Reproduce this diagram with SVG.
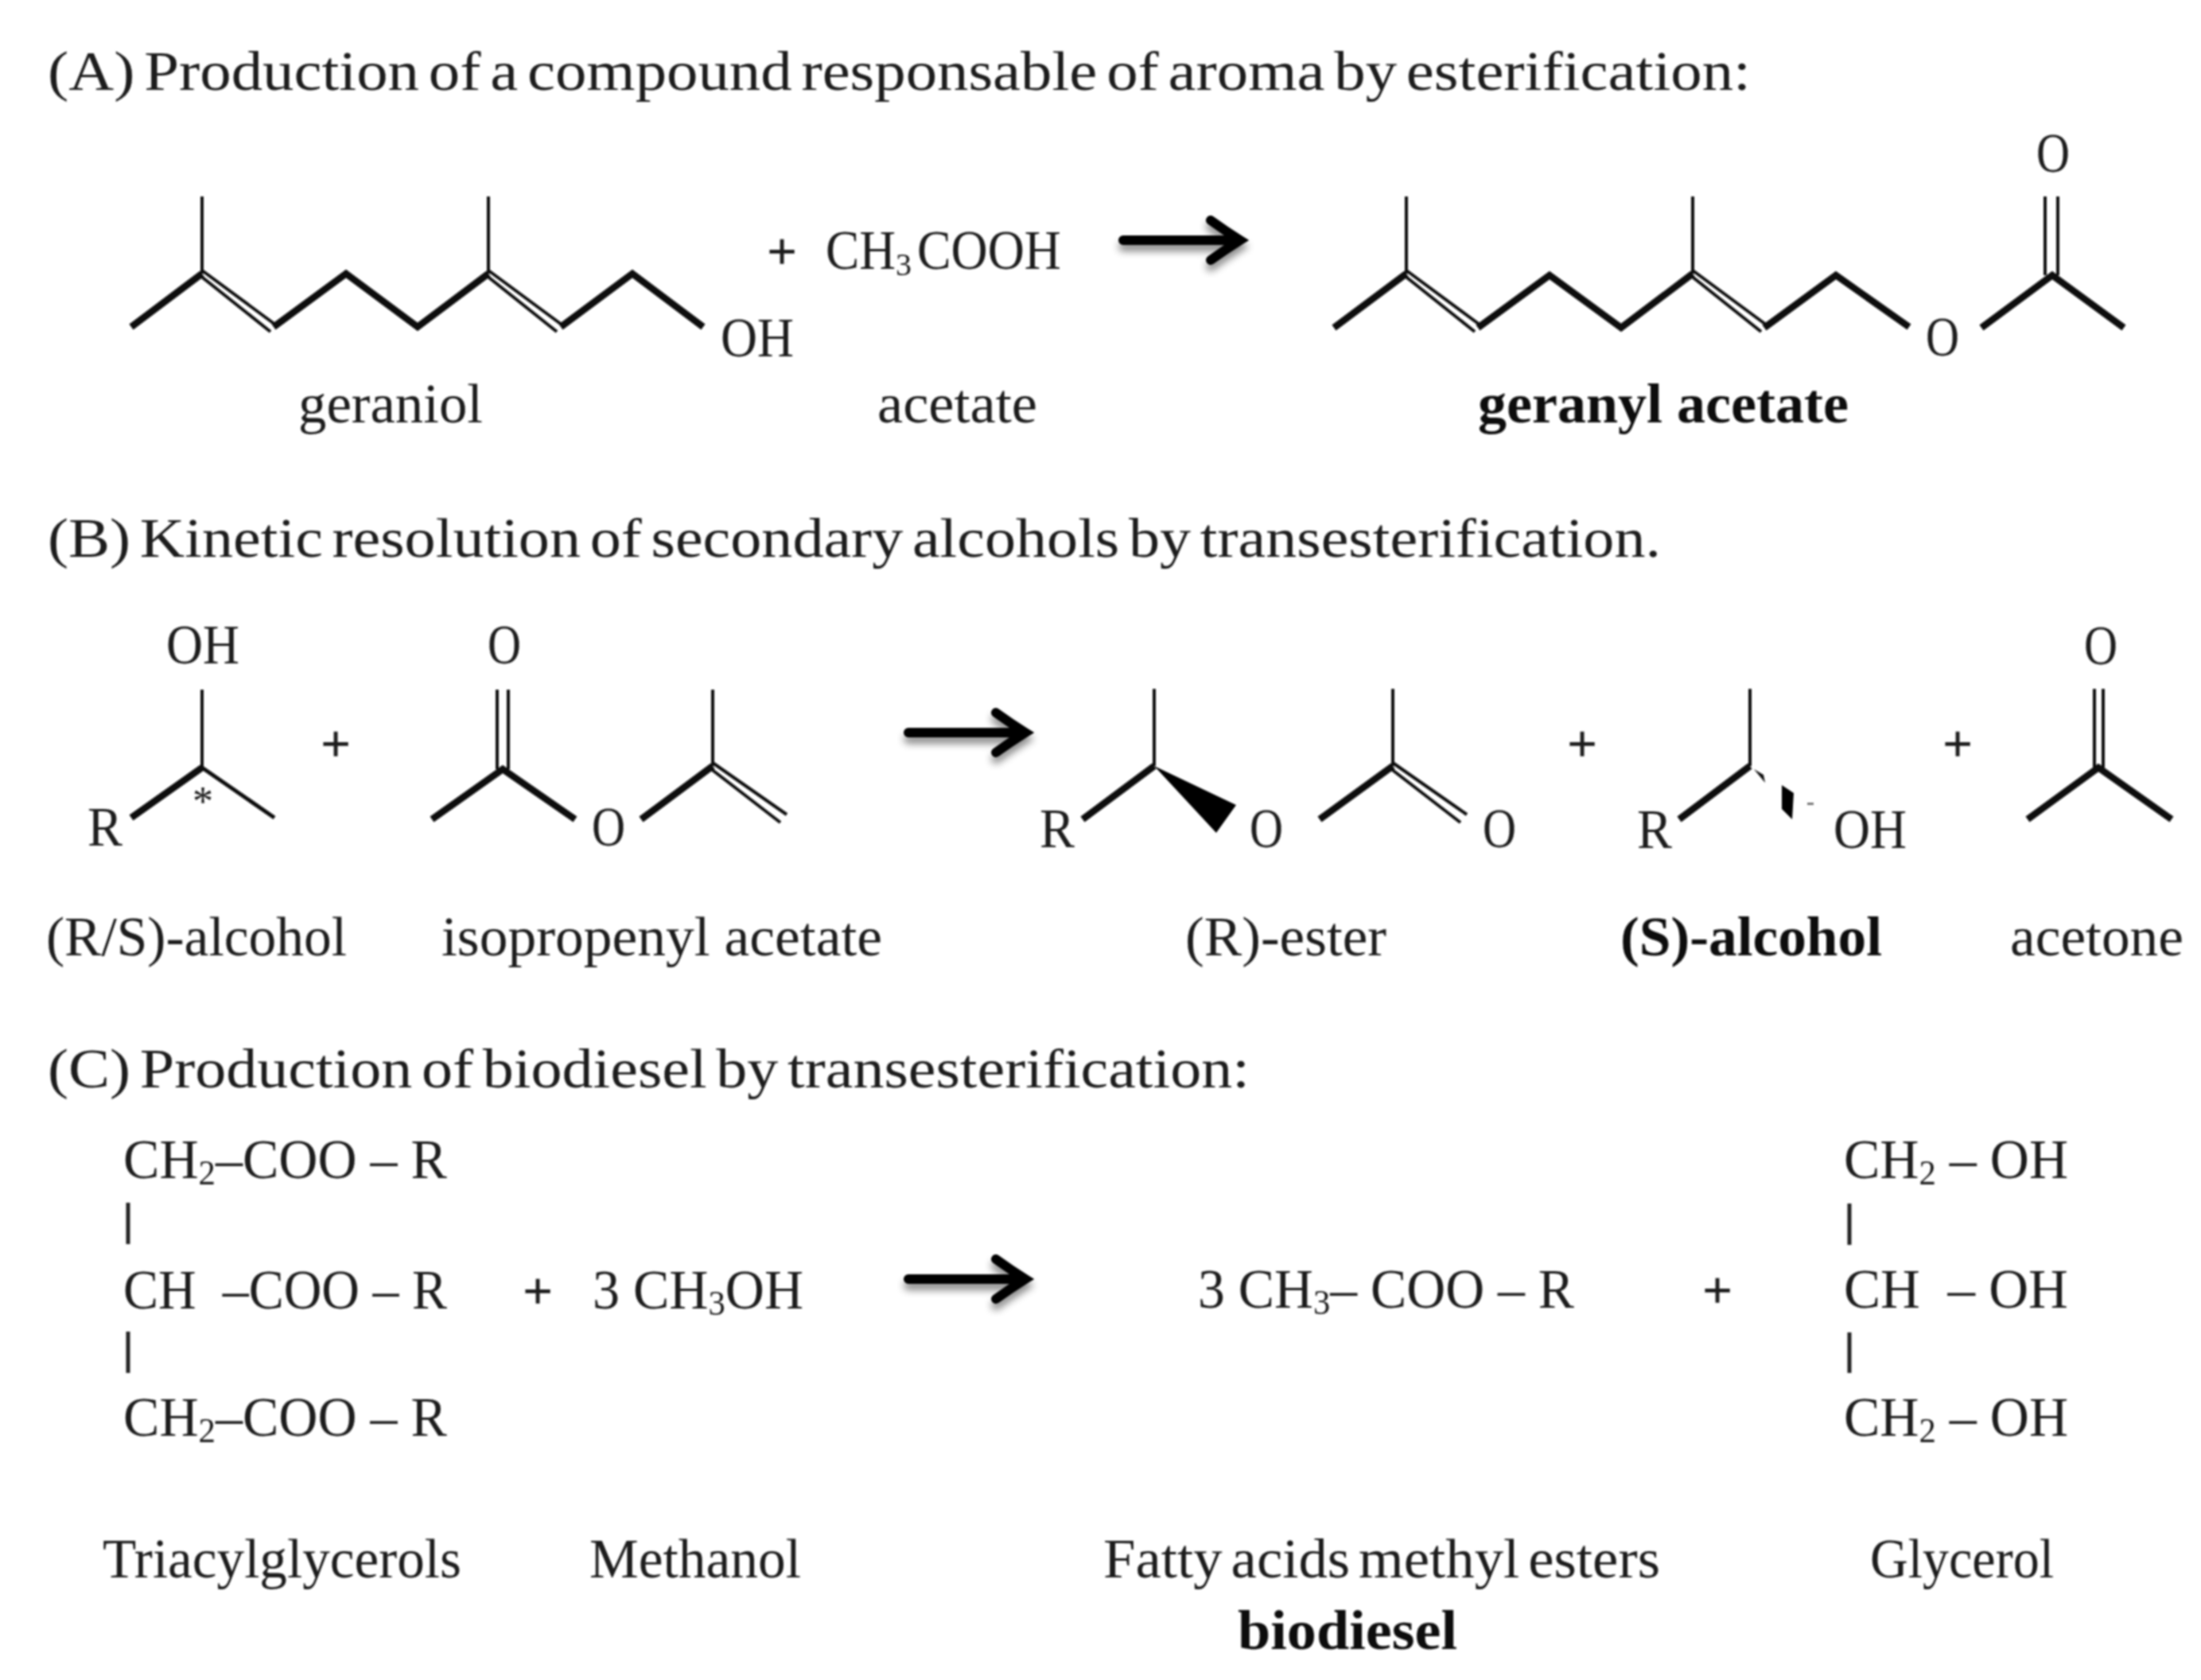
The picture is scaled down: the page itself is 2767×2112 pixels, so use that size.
<svg xmlns="http://www.w3.org/2000/svg" width="2767" height="2112" viewBox="0 0 2767 2112">
<style>
text{font-family:"Liberation Serif","Noto Sans CJK SC",serif;font-size:70px;fill:#1c1c1c}
.t{word-spacing:-7px}
.b{font-weight:700;fill:#111}
.s{font-size:44px}
.p{font-size:64px;stroke:#1c1c1c;stroke-width:1.6}
.thick{fill:none;stroke:#0c0c0c;stroke-width:8.5;stroke-linejoin:miter;stroke-linecap:butt}
.thin{fill:none;stroke:#111;stroke-width:4;stroke-linecap:butt}
.bar{fill:none;stroke:#222;stroke-width:5}
.arrow{fill:none;stroke:#050505;stroke-width:12;stroke-linejoin:miter;stroke-linecap:round}
</style>
<defs>
<filter id="soft" x="-2%" y="-2%" width="104%" height="104%"><feGaussianBlur stdDeviation="0.8"/></filter>
<filter id="shadow" x="-20%" y="-40%" width="140%" height="220%"><feDropShadow dx="0" dy="8" stdDeviation="5" flood-color="#000" flood-opacity="0.45"/></filter>
<path id="arrowShape" class="arrow" d="M0 0H146M110 -25Q128 -12 147 0Q128 12 110 25"/>
</defs>
<rect width="2767" height="2112" fill="#fff"/>
<g filter="url(#soft)">
<g id="titles">
<text class="t" x="60" y="113" textLength="2141" lengthAdjust="spacingAndGlyphs">(A) Production of a compound responsable of aroma by esterification:</text>
<text class="t" x="60" y="700" textLength="2028" lengthAdjust="spacingAndGlyphs">(B) Kinetic resolution of secondary alcohols by transesterification.</text>
<text class="t" x="60" y="1367" textLength="1511" lengthAdjust="spacingAndGlyphs">(C) Production of biodiesel by transesterification:</text>
</g>

<g id="geraniol">
<path class="thick" d="M165 411L254 344M344 411L435 344L525 411L614 344M705 411L795 344L884 411"/>
<path class="thin" d="M254 247V344M614 247V344"/>
<path class="thin" d="M254 340L346 408M251 346L340 417M614 340L706 408M611 346L700 417"/>
<text x="906" y="448" textLength="92" lengthAdjust="spacingAndGlyphs">OH</text>
<text x="375" y="531" textLength="232" lengthAdjust="spacingAndGlyphs">geraniol</text>
</g>

<g id="acetate">
<text x="965" y="338" class="p">+</text>
<text x="1038" y="338" textLength="88" lengthAdjust="spacingAndGlyphs">CH</text>
<text x="1126" y="346" style="font-size:40px">3</text>
<text x="1153" y="338" textLength="181" lengthAdjust="spacingAndGlyphs">COOH</text>
<text x="1103" y="531" textLength="201" lengthAdjust="spacingAndGlyphs">acetate</text>
</g>

<g id="geranyl-acetate">
<path class="thick" d="M1677 412L1768 344M1858 412L1948 346L2038 412L2128 344M2218 412L2308 346L2400 411M2491 412L2580 346L2670 412"/>
<path class="thin" d="M1768 247V344M2128 247V344M2571 247V346M2587 247V346"/>
<path class="thin" d="M1768 340L1860 408M1765 346L1854 417M2128 340L2220 408M2125 346L2214 417"/>
<text x="2421" y="447" textLength="42" lengthAdjust="spacingAndGlyphs">O</text>
<text x="2560" y="216" textLength="42" lengthAdjust="spacingAndGlyphs">O</text>
<text class="b" x="1858" y="531" textLength="466" lengthAdjust="spacingAndGlyphs">geranyl acetate</text>
</g>

<g id="rs-alcohol">
<path class="thick" d="M165 1028L254 965"/>
<path class="thin" d="M254 867V965"/>
<path class="thin" style="stroke-width:5" d="M254 965L345 1028"/>
<text x="209" y="834" textLength="92" lengthAdjust="spacingAndGlyphs">OH</text>
<text x="110" y="1063" textLength="44" lengthAdjust="spacingAndGlyphs">R</text>
<text x="242" y="1025" style="font-size:52px">*</text>
<text x="58" y="1201" textLength="378" lengthAdjust="spacingAndGlyphs">(R/S)-alcohol</text>
</g>
<text id="plus-b1" x="404" y="957" class="p">+</text>

<g id="isopropenyl-acetate">
<path class="thick" d="M543 1030L632 967L723 1030M806 1030L896 963"/>
<path class="thin" d="M625 867V967M639 867V967M896 867V963"/>
<path class="thin" d="M896 959L989 1024M893 966L981 1034"/>
<text x="613" y="834" textLength="42" lengthAdjust="spacingAndGlyphs">O</text>
<text x="744" y="1063" textLength="42" lengthAdjust="spacingAndGlyphs">O</text>
<text x="555" y="1201" textLength="554" lengthAdjust="spacingAndGlyphs">isopropenyl acetate</text>
</g>

<g id="r-ester">
<path class="thick" d="M1361 1030L1451 963M1659 1030L1751 963"/>
<path class="thin" d="M1451 866V963M1751 866V963"/>
<path d="M1451 963L1554 1012L1529 1047Z" fill="#050505"/>
<path class="thin" d="M1751 959L1844 1024M1748 966L1836 1034"/>
<text x="1307" y="1065" textLength="44" lengthAdjust="spacingAndGlyphs">R</text>
<text x="1571" y="1065" textLength="42" lengthAdjust="spacingAndGlyphs">O</text>
<text x="1864" y="1065" textLength="42" lengthAdjust="spacingAndGlyphs">O</text>
<text x="1490" y="1201" textLength="253" lengthAdjust="spacingAndGlyphs">(R)-ester</text>
</g>
<text id="plus-b2" x="1971" y="957" class="p">+</text>

<g id="s-alcohol">
<path class="thick" d="M2111 1030L2200 963"/>
<path class="thin" d="M2200 866V963"/>
<path d="M2205 967L2217 974L2219 984Z" fill="#111"/>
<path d="M2240 987L2255 997L2253 1030L2240 1017Z" fill="#050505"/>
<rect x="2272" y="1009" width="8" height="3" fill="#777"/>
<text x="2058" y="1066" textLength="44" lengthAdjust="spacingAndGlyphs">R</text>
<text x="2305" y="1066" textLength="92" lengthAdjust="spacingAndGlyphs">OH</text>
<text class="b" x="2037" y="1201" textLength="329" lengthAdjust="spacingAndGlyphs">(S)-alcohol</text>
</g>
<text id="plus-b3" x="2443" y="957" class="p">+</text>

<g id="acetone">
<path class="thick" d="M2549 1030L2638 965L2730 1030"/>
<path class="thin" d="M2633 866V965M2644 866V965"/>
<text x="2620" y="835" textLength="42" lengthAdjust="spacingAndGlyphs">O</text>
<text x="2527" y="1201" textLength="218" lengthAdjust="spacingAndGlyphs">acetone</text>
</g>

<g id="triacylglycerols">
<text x="155" y="1481" textLength="407" lengthAdjust="spacingAndGlyphs">CH<tspan class="s" dy="8">2</tspan><tspan dy="-8">–COO – R</tspan></text>
<path class="bar" d="M161 1512V1564M161 1674V1726"/>
<text x="155" y="1645" textLength="407" lengthAdjust="spacingAndGlyphs" xml:space="preserve">CH  –COO – R</text>
<text x="155" y="1805" textLength="407" lengthAdjust="spacingAndGlyphs">CH<tspan class="s" dy="8">2</tspan><tspan dy="-8">–COO – R</tspan></text>
<text x="129" y="1983" textLength="451" lengthAdjust="spacingAndGlyphs">Triacylglycerols</text>
</g>
<text id="plus-c1" x="658" y="1645" class="p">+</text>

<g id="methanol">
<text x="745" y="1645" textLength="265" lengthAdjust="spacingAndGlyphs">3 CH<tspan class="s" dy="8">3</tspan><tspan dy="-8">OH</tspan></text>
<text x="741" y="1983" textLength="266" lengthAdjust="spacingAndGlyphs">Methanol</text>
</g>

<g id="biodiesel">
<text x="1506" y="1644" textLength="473" lengthAdjust="spacingAndGlyphs" xml:space="preserve">3 CH<tspan class="s" dy="8">3</tspan><tspan dy="-8">– COO – R</tspan></text>
<text class="t" x="1387" y="1983" textLength="700" lengthAdjust="spacingAndGlyphs">Fatty acids methyl esters</text>
<text class="b" x="1556" y="2073" textLength="276" lengthAdjust="spacingAndGlyphs">biodiesel</text>
</g>
<text id="plus-c2" x="2141" y="1644" class="p">+</text>

<g id="glycerol">
<text x="2318" y="1481" textLength="282" lengthAdjust="spacingAndGlyphs" xml:space="preserve">CH<tspan class="s" dy="8">2</tspan><tspan dy="-8"> – OH</tspan></text>
<path class="bar" d="M2325 1513V1565M2325 1675V1726"/>
<text x="2318" y="1644" textLength="282" lengthAdjust="spacingAndGlyphs" xml:space="preserve">CH  – OH</text>
<text x="2318" y="1805" textLength="282" lengthAdjust="spacingAndGlyphs" xml:space="preserve">CH<tspan class="s" dy="8">2</tspan><tspan dy="-8"> – OH</tspan></text>
<text x="2351" y="1983" textLength="231" lengthAdjust="spacingAndGlyphs">Glycerol</text>
</g>

<g id="connectors" filter="url(#shadow)">
<use href="#arrowShape" x="1412" y="302"/>
<use href="#arrowShape" x="1142" y="921"/>
<use href="#arrowShape" x="1142" y="1608"/>
</g>
</g>
</svg>
